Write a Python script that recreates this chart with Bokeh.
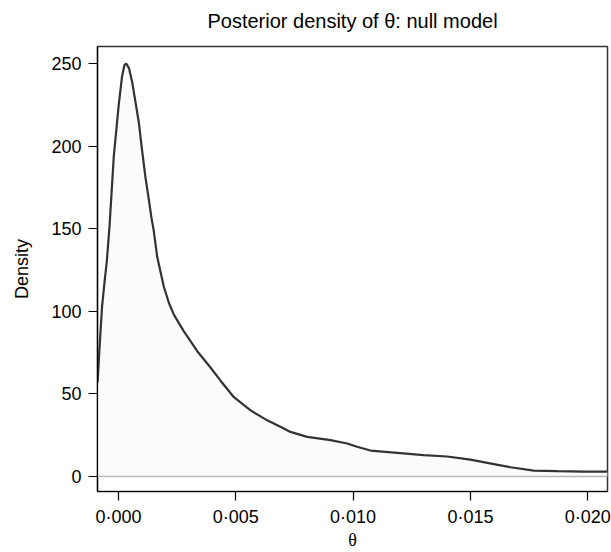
from bokeh.plotting import figure
from bokeh.models import FixedTicker, CustomJSTickFormatter, Span, Range1d, LinearAxis
from bokeh.embed import file_html
from bokeh.resources import INLINE

# Data
theta = [-0.00089, -0.00080, -0.00070, -0.00060, -0.00050, -0.00038, -0.00020,
         0.00001, 0.00015, 0.00025, 0.00033, 0.00045, 0.00058, 0.00072, 0.00087,
         0.00100, 0.00115, 0.00129, 0.00140, 0.00150, 0.00165, 0.00193, 0.00215,
         0.00236, 0.00278, 0.00335, 0.00392, 0.00435, 0.00492, 0.00563, 0.00634,
         0.00705, 0.00733, 0.00804, 0.00904, 0.00975, 0.01017, 0.01074, 0.01188,
         0.01301, 0.01401, 0.01500, 0.01600, 0.01671, 0.01770, 0.01870, 0.01983,
         0.02085]
density = [57, 80, 103, 117, 130, 152, 194,
           225, 242, 249, 250, 247, 239, 227, 214,
           198, 181, 168, 157, 149, 133, 115, 105,
           98, 88, 76, 66, 58, 48, 40, 34,
           29, 27, 24, 22, 20, 18, 15.7, 14.3,
           12.9, 12.1, 10.2, 7.5, 5.6, 3.6, 3.2, 3.0,
           3.0]

x_ticks = [0.0, 0.005, 0.010, 0.015, 0.020]
x_tick_labels = ["0\u00b7000", "0\u00b7005", "0\u00b7010", "0\u00b7015", "0\u00b7020"]
y_ticks = [0, 50, 100, 150, 200, 250]

title_text = "Posterior density of \u03b8: null model"
x_label = "\u03b8"
y_label = "Density"

X0, X1 = -0.000895, 0.020844
Y0, Y1 = -9.08, 260.3

p = figure(width=611, height=552, output_backend="svg", toolbar_location=None,
           x_range=Range1d(X0, X1), y_range=Range1d(Y0, Y1),
           min_border_left=97, min_border_right=4, min_border_top=46,
           min_border_bottom=61)

p.background_fill_color = "white"
p.border_fill_color = "white"
p.grid.visible = False
p.outline_line_color = "#333333"
p.outline_line_width = 1.5

xax = p.below[0]
yax = p.left[0]

for ax in (xax, yax):
    ax.axis_line_color = "black"
    ax.axis_line_width = 1.2
    ax.major_tick_line_color = "black"
    ax.major_tick_line_width = 1.2
    ax.major_tick_out = 9
    ax.major_tick_in = 0
    ax.minor_tick_line_color = None
    ax.major_label_text_font = "Liberation Sans"
    ax.major_label_text_font_size = "18px"
    ax.major_label_text_color = "black"
    ax.major_label_standoff = 7

xax.major_label_standoff = 6
xax.ticker = FixedTicker(ticks=x_ticks)
xax.formatter = CustomJSTickFormatter(
    args=dict(tick_vals=x_ticks, tick_texts=x_tick_labels),
    code="""
    for (let i = 0; i < tick_vals.length; i++) {
        if (Math.abs(tick_vals[i] - tick) < 1e-9) { return tick_texts[i]; }
    }
    return '';
    """)
xax.axis_label = x_label
xax.axis_label_text_font = "Liberation Serif"
xax.axis_label_text_font_size = "18px"
xax.axis_label_text_font_style = "normal"
xax.axis_label_text_color = "black"
xax.axis_label_standoff = 0

yax.ticker = FixedTicker(ticks=y_ticks)
yax.major_label_orientation = "horizontal"
yax.axis_label = y_label
yax.axis_label_text_font = "Liberation Sans"
yax.axis_label_text_font_size = "18px"
yax.axis_label_text_font_style = "normal"
yax.axis_label_text_color = "black"
yax.axis_label_standoff = 16

# Title drawn as the label of a bare axis above the frame (precise placement)
title_axis = LinearAxis(ticker=FixedTicker(ticks=[]), axis_label=title_text)
title_axis.axis_line_color = None
title_axis.major_tick_line_color = None
title_axis.minor_tick_line_color = None
title_axis.major_tick_out = 0
title_axis.major_tick_in = 0
title_axis.major_label_standoff = 0
title_axis.axis_label_standoff = 15
title_axis.axis_label_text_font = "Liberation Sans"
title_axis.axis_label_text_font_size = "20px"
title_axis.axis_label_text_font_style = "normal"
title_axis.axis_label_text_color = "black"
p.add_layout(title_axis, "above")

p.varea(x=theta, y1=[0] * len(theta), y2=density, fill_color="#fbfbfb")
p.line(theta, density, line_color="#333333", line_width=2.2)

p.add_layout(Span(location=0, dimension="width", line_color="#b8b8b8", line_width=1.5))

open("out.html", "w").write(file_html(p, INLINE))
